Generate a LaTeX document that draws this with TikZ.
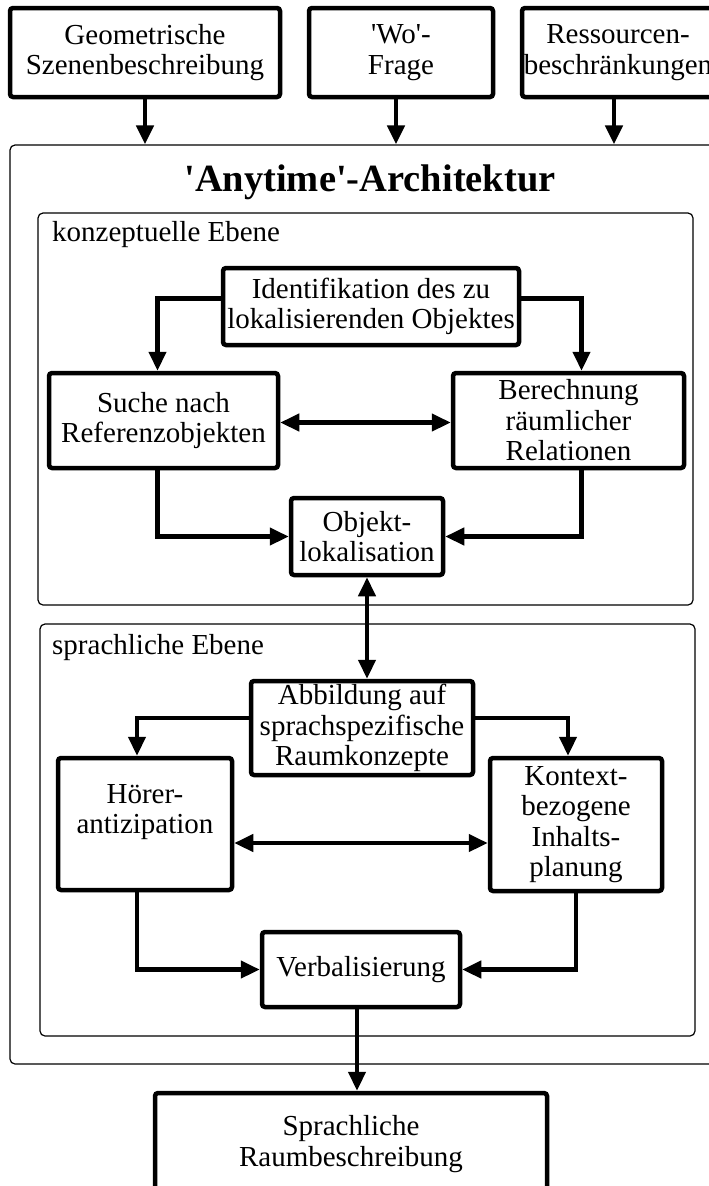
\documentclass[tikz,border=0pt]{standalone}
\usepackage{fontspec}
\setmainfont{Liberation Serif}
\usetikzlibrary{arrows.meta}

\begin{document}
\begin{tikzpicture}
[ x=1pt, y=-1pt
, box/.style={rectangle, draw, line width=4.5pt, rounded corners=3pt, align=center, inner sep=0pt, font=\fontsize{29}{30.5}\selectfont}
, ebene/.style={rectangle, draw, line width=1.2pt, rounded corners=5pt, inner sep=0pt}
, ebenentext/.style={anchor=west, inner sep=0pt, font=\fontsize{29}{30.5}\selectfont}
, pfeil/.style={line width=4.5pt, -{Triangle[length=19pt,width=17pt]}}
, doppelpfeil/.style={line width=4.5pt, {Triangle[length=19pt,width=17pt]}-{Triangle[length=19pt,width=17pt]}}
]
\useasboundingbox (0,0) rectangle (709,1186);
% Eingaben:
\node (geo) [box, minimum width=270, minimum height=89] at (145,52.5) {Geometrische\\Szenenbeschreibung};
\node (wo) [box, minimum width=184, minimum height=89] at (401,52.5) {\textquotesingle Wo\textquotesingle-\\Frage};
\node (res) [box, minimum width=192, minimum height=89] at (618,52.5) {Ressourcen-\\beschränkungen};
% Architektur mit zwei Ebenen:
\node (arch) [ebene, minimum width=712, minimum height=919] at (366,604.5) {};
\node (titel) [inner sep=0pt, font=\fontsize{38.5}{42}\selectfont\bfseries] at (370,182) {\textquotesingle Anytime\textquotesingle-Architektur};
\node (konz) [ebene, minimum width=655, minimum height=392] at (365.5,409) {};
\node (konztext) [ebenentext] at (52,235) {konzeptuelle Ebene};
\node (sprach) [ebene, minimum width=655, minimum height=412] at (367.5,830) {};
\node (sprachtext) [ebenentext] at (52,648) {sprachliche Ebene};
% konzeptuelle Ebene:
\node (ident) [box, minimum width=296, minimum height=77] at (371,306.5) {Identifikation des zu\\lokalisierenden Objektes};
\node (suche) [box, minimum width=229, minimum height=95] at (163.5,420.5) {Suche nach\\Referenzobjekten};
\node (berech) [box, minimum width=231, minimum height=95] at (568.5,420.5) {Berechnung\\räumlicher\\Relationen};
\node (objekt) [box, minimum width=152, minimum height=77] at (367,536.5) {Objekt-\\lokalisation};
% sprachliche Ebene:
\node (abb) [box, minimum width=222, minimum height=94] at (362,728) {Abbildung auf\\sprachspezifische\\Raumkonzepte};
\node (hoerer) [box, minimum width=174, minimum height=132] at (145,824) {Hörer-\\antizipation\\\mbox{}};
\node (kontext) [box, minimum width=172, minimum height=133] at (576,824.5) {Kontext-\\bezogene\\Inhalts-\\planung};
\node (verbal) [box, minimum width=198, minimum height=75] at (361,969.5) {Verbalisierung};
% Ausgabe:
\node (ausgabe) [box, minimum width=392, minimum height=102] at (351,1144) {Sprachliche\\Raumbeschreibung};

\draw [pfeil] (geo) -- (geo |- arch.north);
\draw [pfeil] ([xshift=-5pt]wo.south) -- ([xshift=-5pt]wo.south |- arch.north);
\draw [pfeil] ([xshift=-4pt]res.south) -- ([xshift=-4pt]res.south |- arch.north);
\draw [pfeil] ([yshift=8pt]ident.west) -| ([xshift=-6pt]suche.north);
\draw [pfeil] ([yshift=8pt]ident.east) -| ([xshift=13pt]berech.north);
\draw [doppelpfeil] ([yshift=-2pt]suche.east) -- ([yshift=-2pt]berech.west);
\draw [pfeil] ([xshift=-6pt]suche.south) |- (objekt.west);
\draw [pfeil] ([xshift=13pt]berech.south) |- (objekt.east);
\draw [doppelpfeil] (objekt.south) -- (objekt.south |- abb.north);
\draw [pfeil] ([yshift=10pt]abb.west) -| ([xshift=-8pt]hoerer.north);
\draw [pfeil] ([yshift=10pt]abb.east) -| ([xshift=-8pt]kontext.north);
\draw [doppelpfeil] ([yshift=-19pt]hoerer.east) -- ([yshift=-19pt]hoerer.east -| kontext.west);
\draw [pfeil] ([xshift=-8pt]hoerer.south) |- (verbal.west);
\draw [pfeil] (kontext.south) |- (verbal.east);
\draw [pfeil] ([xshift=-4pt]verbal.south) -- ([xshift=-4pt]verbal.south |- ausgabe.north);
\end{tikzpicture}
\end{document}
